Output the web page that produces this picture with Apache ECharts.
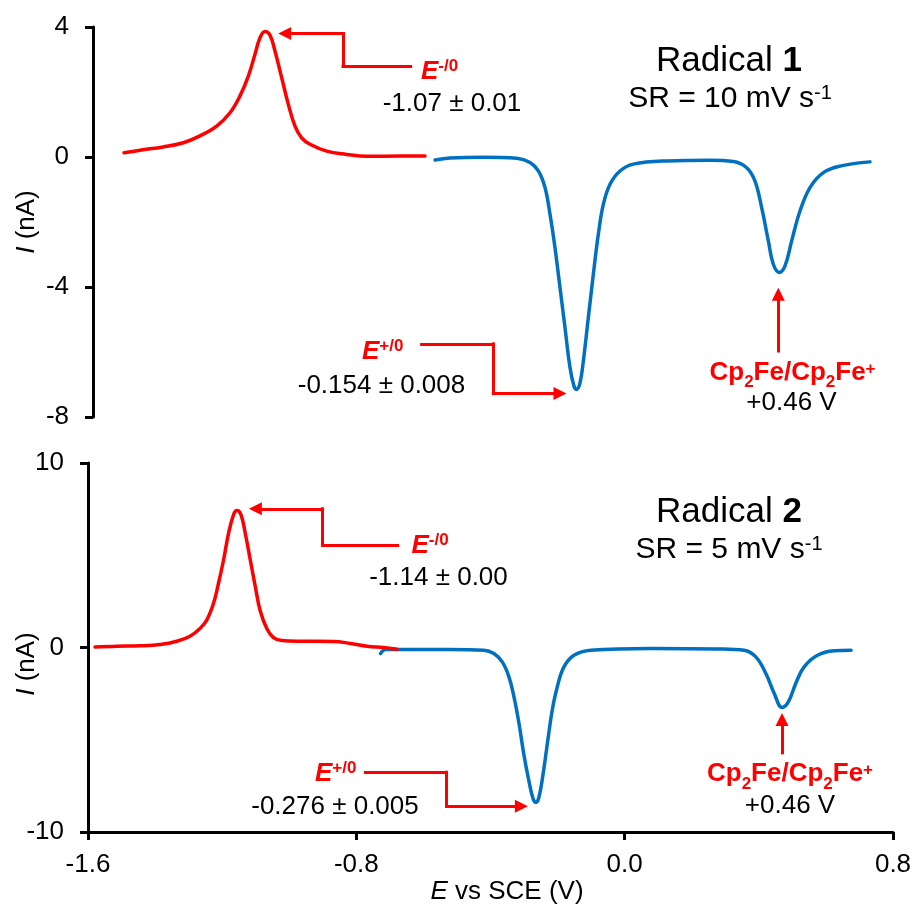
<!DOCTYPE html>
<html>
<head>
<meta charset="utf-8">
<script src="https://cdn.jsdelivr.net/npm/echarts@6/dist/echarts.min.js"></script>
<style>
  html, body { margin: 0; padding: 0; background: #fff; }
  #chart { width: 916px; height: 909px; }
</style>
</head>
<body>
<div id="chart"></div>
<script>
const FONT = '"Liberation Sans", Arial, Helvetica, sans-serif';
const RED = '#FF0000';
const BLUE = '#0070C0';

// Axis ticks (potential in V vs SCE, current in nA)
const potentialTicks = [-1.6, -0.8, 0.0, 0.8];
const currentTicks1 = [-8, -4, 0, 4];
const currentTicks2 = [-10, 0, 10];

// Radical 1 (SR = 10 mV/s): reduction sweep [E, I]
const radical1Red = [
  [-1.507, 0.13], [-1.459, 0.21], [-1.389, 0.31], [-1.329, 0.44], [-1.279, 0.65],
  [-1.229, 0.95], [-1.189, 1.36], [-1.159, 1.88], [-1.134, 2.49], [-1.114, 3.16],
  [-1.099, 3.67], [-1.084, 3.86], [-1.069, 3.75], [-1.054, 3.26], [-1.034, 2.44],
  [-1.014, 1.62], [-0.994, 0.95], [-0.974, 0.59], [-0.949, 0.39], [-0.899, 0.18],
  [-0.839, 0.08], [-0.779, 0.02], [-0.679, 0.03], [-0.604, 0.03]
];
// Radical 1: oxidation sweep incl. ferrocene reference
const radical1Ox = [
  [-0.574, -0.09], [-0.529, -0.03], [-0.429, -0.01], [-0.329, -0.04], [-0.289, -0.17],
  [-0.264, -0.43], [-0.244, -0.94], [-0.229, -1.76], [-0.214, -2.79], [-0.199, -4.02],
  [-0.184, -5.25], [-0.169, -6.48], [-0.157, -7.05], [-0.149, -7.15], [-0.139, -6.95],
  [-0.129, -6.28], [-0.114, -4.94], [-0.099, -3.61], [-0.084, -2.38], [-0.069, -1.46],
  [-0.049, -0.84], [-0.019, -0.43], [0.021, -0.22], [0.121, -0.12], [0.251, -0.10],
  [0.321, -0.14], [0.361, -0.33], [0.386, -0.74], [0.406, -1.56], [0.426, -2.58],
  [0.441, -3.30], [0.459, -3.55], [0.476, -3.35], [0.496, -2.58], [0.521, -1.66],
  [0.551, -0.94], [0.591, -0.48], [0.641, -0.28], [0.731, -0.15]
];

// Radical 2 (SR = 5 mV/s): reduction sweep
const radical2Red = [
  [-1.579, 0.03], [-1.514, 0.07], [-1.445, 0.09], [-1.385, 0.16], [-1.335, 0.34],
  [-1.296, 0.61], [-1.266, 1.03], [-1.246, 1.48], [-1.226, 2.38], [-1.211, 3.47],
  [-1.196, 4.73], [-1.181, 6.18], [-1.166, 7.20], [-1.156, 7.42], [-1.144, 7.20],
  [-1.131, 6.18], [-1.116, 4.73], [-1.101, 3.28], [-1.087, 2.02], [-1.067, 1.03],
  [-1.047, 0.54], [-1.022, 0.38], [-0.967, 0.34], [-0.868, 0.33], [-0.818, 0.22],
  [-0.768, 0.07], [-0.719, 0.00], [-0.679, -0.09]
];
// Radical 2: oxidation sweep
const radical2Ox = [
  [-0.728, -0.33], [-0.713, -0.11], [-0.679, -0.11], [-0.519, -0.11], [-0.420, -0.15],
  [-0.390, -0.33], [-0.365, -0.78], [-0.345, -1.59], [-0.330, -2.68], [-0.315, -4.12],
  [-0.301, -5.75], [-0.286, -7.19], [-0.273, -8.20], [-0.265, -8.40], [-0.256, -8.15],
  [-0.243, -6.83], [-0.229, -5.02], [-0.216, -3.40], [-0.201, -2.14], [-0.181, -1.05],
  [-0.151, -0.42], [-0.101, -0.15], [0.078, -0.05], [0.277, -0.08], [0.356, -0.15],
  [0.391, -0.51], [0.421, -1.41], [0.446, -2.49], [0.469, -3.25], [0.488, -2.95],
  [0.510, -1.95], [0.535, -1.05], [0.575, -0.42], [0.625, -0.18], [0.675, -0.15]
];

// Leader lines [E, I]; the last point carries the arrow head
const radical1Arrows = [
  [[-0.647, 2.8], [-0.850, 2.8], [-0.850, 3.8], [-1.025, 3.8]],
  [[-0.614, -5.75], [-0.399, -5.75], [-0.399, -7.28], [-0.199, -7.28]],
  [[0.456, -5.97], [0.456, -4.22]]
];
const radical2Arrows = [
  [[-0.677, 5.56], [-0.901, 5.56], [-0.901, 7.52], [-1.101, 7.52]],
  [[-0.773, -6.76], [-0.531, -6.76], [-0.531, -8.61], [-0.308, -8.61]],
  [[0.469, -5.71], [0.469, -3.90]]
];

function arrowSegments(paths) {
  const segs = [];
  paths.forEach(p => {
    for (let i = 0; i < p.length - 1; i++) {
      const last = i === p.length - 2;
      segs.push([
        { coord: p[i], symbol: 'none' },
        { coord: p[i + 1], symbol: last ? 'triangle' : 'none', symbolSize: 13 }
      ]);
    }
  });
  return segs;
}

function markLineFor(paths) {
  return {
    silent: true,
    animation: false,
    symbol: ['none', 'none'],
    label: { show: false },
    emphasis: { disabled: true },
    lineStyle: { color: RED, width: 3, type: 'solid', cap: 'square' },
    itemStyle: { color: RED },
    data: arrowSegments(paths)
  };
}

function curve(data, color, xi, extra) {
  return Object.assign({
    type: 'line',
    xAxisIndex: xi,
    yAxisIndex: xi,
    data: data,
    showSymbol: false,
    smooth: 0.4,
    lineStyle: { color: color, width: 3.5, cap: 'round', join: 'round' },
    itemStyle: { color: color },
    silent: true,
    animation: false
  }, extra || {});
}

function fmtPot(v) {
  if (Math.abs(v) < 1e-9) v = 0;
  return v.toFixed(1);
}

function yAxisFor(grid, ticks) {
  return {
    type: 'value',
    gridIndex: grid,
    min: ticks[0],
    max: ticks[ticks.length - 1],
    interval: ticks[1] - ticks[0],
    axisLine: { show: true, onZero: false, lineStyle: { color: '#000', width: 3 } },
    axisTick: { show: true, inside: false, length: 8, lineStyle: { color: '#000', width: 3 } },
    axisLabel: { color: '#000', fontSize: 26, fontFamily: FONT, margin: 24 },
    splitLine: { show: false }
  };
}

const potAxisBase = {
  type: 'value',
  min: potentialTicks[0],
  max: potentialTicks[potentialTicks.length - 1],
  interval: potentialTicks[1] - potentialTicks[0]
};

// Text annotations
const supE = { fontSize: 17, fontWeight: 'bold', fontFamily: FONT, fill: RED, verticalAlign: 'top', height: 19, lineHeight: 19 };
const mainE = { fontSize: 26, fontWeight: 'bold', fontStyle: 'italic', fontFamily: FONT, fill: RED, lineHeight: 30 };
const blk = { fontSize: 26, fontFamily: FONT, fill: '#000' };
const fcRich = {
  m: { fontSize: 26, fontWeight: 'bold', fontFamily: FONT, fill: RED, lineHeight: 46 },
  s: { fontSize: 17, fontWeight: 'bold', fontFamily: FONT, fill: RED, verticalAlign: 'bottom', height: 26, lineHeight: 26 },
  p: { fontSize: 17, fontWeight: 'bold', fontFamily: FONT, fill: RED, verticalAlign: 'top', height: 39, lineHeight: 39 }
};
const titleRich = {
  r: { fontSize: 35, fontFamily: FONT, fill: '#000' },
  b: { fontSize: 35, fontWeight: 'bold', fontFamily: FONT, fill: '#000' }
};
const srRich = {
  t: { fontSize: 30, fontFamily: FONT, fill: '#000', lineHeight: 30 },
  u: { fontSize: 20, fontFamily: FONT, fill: '#000', verticalAlign: 'top', height: 18, lineHeight: 18 }
};

function txt(x, y, text, rich, align, rotation) {
  return {
    type: 'text', x: x, y: y, rotation: rotation || 0, silent: true, z: 20,
    style: { text: text, rich: rich, align: align || 'center', verticalAlign: 'middle',
             fontFamily: FONT, fontSize: 26, fill: '#000' }
  };
}

const eRich = { e: mainE, s: supE };
const italicBlk = Object.assign({}, blk, { fontStyle: 'italic' });
const graphics = [
  // Radical 1 panel
  txt(421, 71.5, '{e|E}{s|-/0}', eRich, 'left'),
  txt(452, 104, '{n|-1.07 ± 0.01}', { n: blk }),
  txt(729, 61, '{r|Radical }{b|1}', titleRich),
  txt(730, 99, '{t|SR = 10 mV s}{u|-1}', srRich),
  txt(362, 352, '{e|E}{s|+/0}', eRich, 'left'),
  txt(381.5, 386, '{n|-0.154 ± 0.008}', { n: blk }),
  txt(792.5, 372.5, '{m|Cp}{s|2}{m|Fe/Cp}{s|2}{m|Fe}{p|+}', fcRich),
  txt(791.5, 403, '{n|+0.46 V}', { n: blk }),
  // Radical 2 panel
  txt(411.5, 546, '{e|E}{s|-/0}', eRich, 'left'),
  txt(438.5, 578, '{n|-1.14 ± 0.00}', { n: blk }),
  txt(729, 512, '{r|Radical }{b|2}', titleRich),
  txt(729, 550, '{t|SR = 5 mV s}{u|-1}', srRich),
  txt(315, 774, '{e|E}{s|+/0}', eRich, 'left'),
  txt(335, 807, '{n|-0.276 ± 0.005}', { n: blk }),
  txt(790, 774, '{m|Cp}{s|2}{m|Fe/Cp}{s|2}{m|Fe}{p|+}', fcRich),
  txt(790, 806, '{n|+0.46 V}', { n: blk }),
  // Axis titles
  txt(27, 222, '{i|I}{n| (nA)}', { i: italicBlk, n: blk }, 'center', Math.PI / 2),
  txt(27, 664, '{i|I}{n| (nA)}', { i: italicBlk, n: blk }, 'center', Math.PI / 2),
  txt(507, 892, '{i|E}{n| vs SCE (V)}', { i: italicBlk, n: blk })
];

const chart = echarts.init(document.getElementById('chart'), null, { renderer: 'canvas' });
chart.setOption({
  backgroundColor: '#fff',
  animation: false,
  grid: [
    { left: 93, right: 23, top: 27, height: 390 },
    { left: 88, right: 23, top: 463, height: 369 }
  ],
  xAxis: [
    Object.assign({}, potAxisBase, { gridIndex: 0, show: false }),
    Object.assign({}, potAxisBase, {
      gridIndex: 1,
      axisLine: { show: true, onZero: false, lineStyle: { color: '#000', width: 3 } },
      axisTick: { show: true, inside: false, length: 8, lineStyle: { color: '#000', width: 3 } },
      axisLabel: { color: '#000', fontSize: 26, fontFamily: FONT, margin: 20, formatter: fmtPot },
      splitLine: { show: false }
    })
  ],
  yAxis: [yAxisFor(0, currentTicks1), yAxisFor(1, currentTicks2)],
  series: [
    curve(radical1Ox, BLUE, 0),
    curve(radical1Red, RED, 0, { markLine: markLineFor(radical1Arrows) }),
    curve(radical2Ox, BLUE, 1),
    curve(radical2Red, RED, 1, { markLine: markLineFor(radical2Arrows) })
  ],
  graphic: graphics
});
</script>
</body>
</html>
